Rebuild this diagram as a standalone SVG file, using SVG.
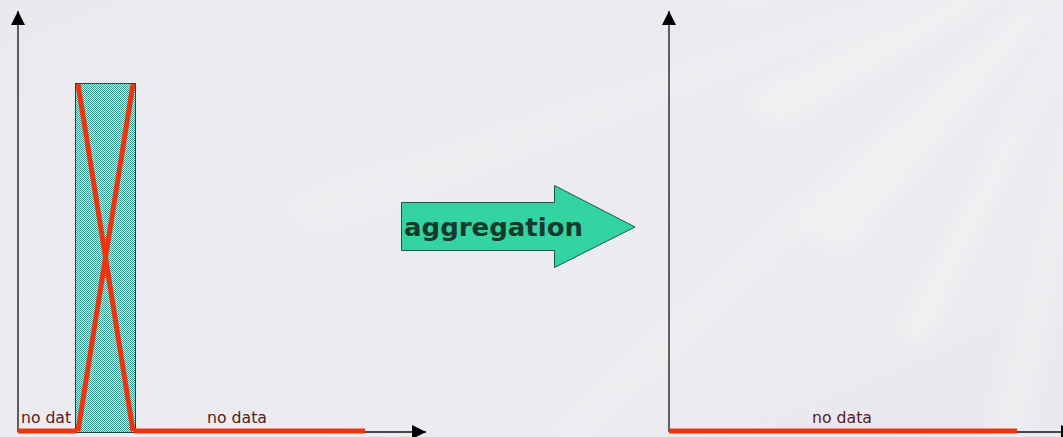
<svg xmlns="http://www.w3.org/2000/svg" width="1063" height="437" viewBox="0 0 1063 437">
  <defs>
    <linearGradient id="bg" x1="0" y1="0" x2="1" y2="1">
      <stop offset="0" stop-color="#eaeaee"/>
      <stop offset="0.6" stop-color="#ececf0"/>
      <stop offset="1" stop-color="#e9e9ed"/>
    </linearGradient>
    <pattern id="hatch" width="2" height="2" patternUnits="userSpaceOnUse">
      <rect width="2" height="2" fill="#dcefe9"/>
      <rect width="1" height="1" fill="#35978a"/>
      <rect x="1" y="1" width="1" height="1" fill="#35978a"/>
    </pattern>
    <filter id="soft" x="-20%" y="-20%" width="140%" height="140%">
      <feGaussianBlur stdDeviation="10"/>
    </filter>
    <marker id="ah" viewBox="0 0 10 10" refX="10" refY="5" markerWidth="14" markerHeight="14" markerUnits="userSpaceOnUse" orient="auto">
      <path d="M0,0 L10,5 L0,10 Z" fill="#000"/>
    </marker>
    <style>
      .axis { stroke:#111; stroke-width:1.3; fill:none; }
      .red { stroke:#ee3311; stroke-width:5; fill:none; }
      .lbl { font-family:"DejaVu Sans","Liberation Sans",sans-serif; font-size:15px; fill:#5a1a1a; }
      .ray { fill:#ffffff; }
    </style>
  </defs>

  <rect width="1063" height="437" fill="url(#bg)"/>
  <g id="rays" opacity="0.6" filter="url(#soft)">
    <polygon class="ray" points="1120,-80 690,0 750,0" opacity="0.6"/>
    <polygon class="ray" points="1120,-80 740,100 780,125" opacity="0.5"/>
    <polygon class="ray" points="1120,-80 800,230 845,255" opacity="0.45"/>
    <polygon class="ray" points="1120,-80 890,340 930,345" opacity="0.45"/>
    <polygon class="ray" points="1120,-80 990,437 1025,437" opacity="0.4"/>
    <polygon class="ray" points="1120,-80 540,437 590,437" opacity="0.35"/>
    <polygon class="ray" points="1120,-80 280,200 320,235" opacity="0.3"/>
  </g>

  <g id="connectors">
    <line class="axis" x1="18" y1="432" x2="18" y2="11" marker-end="url(#ah)"/>
    <line class="axis" x1="18" y1="432" x2="426" y2="432" marker-end="url(#ah)"/>
    <line class="axis" x1="669" y1="432" x2="669" y2="11" marker-end="url(#ah)"/>
    <line class="axis" x1="669" y1="432" x2="1075" y2="432" marker-end="url(#ah)"/>
  </g>

  <g id="left-chart">
    <rect x="75.5" y="83.5" width="60" height="349" fill="url(#hatch)" stroke="#1e4a40" stroke-width="1"/>
    <line class="red" x1="18" y1="431" x2="77" y2="431"/>
    <line class="red" x1="134" y1="431" x2="365" y2="431"/>
    <line class="red" x1="78" y1="84" x2="133" y2="431"/>
    <line class="red" x1="133" y1="84" x2="78" y2="431"/>
    <text class="lbl" x="21" y="423" textLength="50" lengthAdjust="spacingAndGlyphs">no dat</text>
    <text class="lbl" x="207" y="423" textLength="60" lengthAdjust="spacingAndGlyphs">no data</text>
  </g>

  <g id="aggregation-arrow">
    <polygon points="401.5,202.5 554.5,202.5 554.5,185.5 635,227 554.5,267.5 554.5,250.5 401.5,250.5" fill="#34d3a2" stroke="#1d5a45" stroke-width="1"/>
    <text x="404" y="236" font-family="DejaVu Sans, Liberation Sans, sans-serif" font-weight="bold" font-size="24" fill="#143a2c" textLength="179" lengthAdjust="spacingAndGlyphs">aggregation</text>
  </g>

  <g id="right-chart">
    <line class="red" x1="669" y1="431" x2="1017" y2="431"/>
    <text class="lbl" x="812" y="423" textLength="60" lengthAdjust="spacingAndGlyphs">no data</text>
  </g>
</svg>
